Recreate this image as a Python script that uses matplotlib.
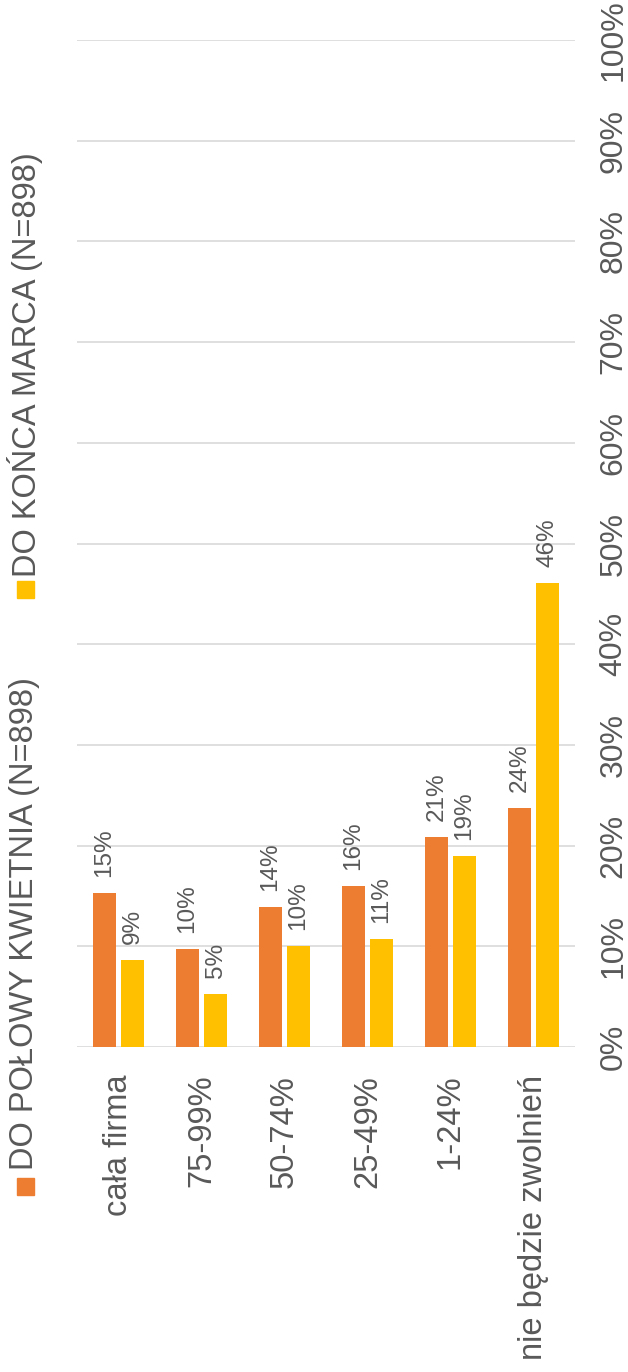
import matplotlib
matplotlib.use("Agg")
import matplotlib.pyplot as plt
from matplotlib.patches import Rectangle

plt.rcParams['font.family'] = ['Liberation Sans', 'DejaVu Sans']

# Dane
categories = ['cała firma', '75-99%', '50-74%', '25-49%', '1-24%', 'nie będzie zwolnień']
kwiecien = [15.3, 9.7, 13.9, 16.0, 20.9, 23.7]   # DO POŁOWY KWIETNIA
marzec = [8.6, 5.3, 10.0, 10.7, 19.0, 46.1]      # DO KOŃCA MARCA
series_names = ['DO POŁOWY KWIETNIA (N=898)', 'DO KOŃCA MARCA (N=898)']
yticks = [0, 10, 20, 30, 40, 50, 60, 70, 80, 90, 100]

orange = '#ED7D31'
yellow = '#FFC000'
txt = '#595959'
grid = '#D9D9D9'

fig = plt.figure(figsize=(6.28, 13.72), dpi=100)
ax = fig.add_axes([0.1226, 0.2369, 0.793, 0.7339])

x = list(range(len(categories)))
w = 0.27
off = 0.17
b1 = ax.bar([i - off for i in x], kwiecien, width=w, color=orange, zorder=2)
b2 = ax.bar([i + off for i in x], marzec, width=w, color=yellow, zorder=2)

for bars, vals in ((b1, kwiecien), (b2, marzec)):
    for r, v in zip(bars, vals):
        ax.annotate(f"{v:.0f}%", (r.get_x() + r.get_width() / 2, v),
                    xytext=(0, 11.5), textcoords='offset points',
                    rotation=90, ha='center', va='bottom',
                    fontsize=17.5, color=txt)

ax.set_xlim(-0.5, len(categories) - 0.5)
ax.set_ylim(0, 100)
ax.set_yticks(yticks)
ax.set_yticklabels([f"{t}%" for t in yticks])
ax.yaxis.tick_right()
ax.set_xticks(x)
ax.set_xticklabels(categories)

ax.tick_params(axis='y', length=0, pad=17, labelsize=23, labelcolor=txt, labelrotation=90)
ax.tick_params(axis='x', length=0, pad=20, labelsize=23.5, labelcolor=txt, labelrotation=90)
for lab in ax.get_yticklabels():
    lab.set_va('center')
    lab.set_ha('left')
for lab in ax.get_xticklabels():
    lab.set_ha('center')
    lab.set_va('top')

for s in ax.spines.values():
    s.set_visible(False)
ax.yaxis.grid(True, color=grid, linewidth=1.2)
ax.set_axisbelow(True)

# Legenda (obrócona)
leg = [(orange, 0.1290, 0.1472), (yellow, 0.5641, 0.5794)]
for (col, sq_y, tx_y), name in zip(leg, series_names):
    fig.add_artist(Rectangle((0.0271, sq_y), 0.0271, 0.01239,
                             transform=fig.transFigure, color=col))
    fig.text(0.0398, tx_y, name, rotation=90, ha='center', va='bottom',
             fontsize=23.5, color=txt)

fig.savefig('out.png', dpi=100)
